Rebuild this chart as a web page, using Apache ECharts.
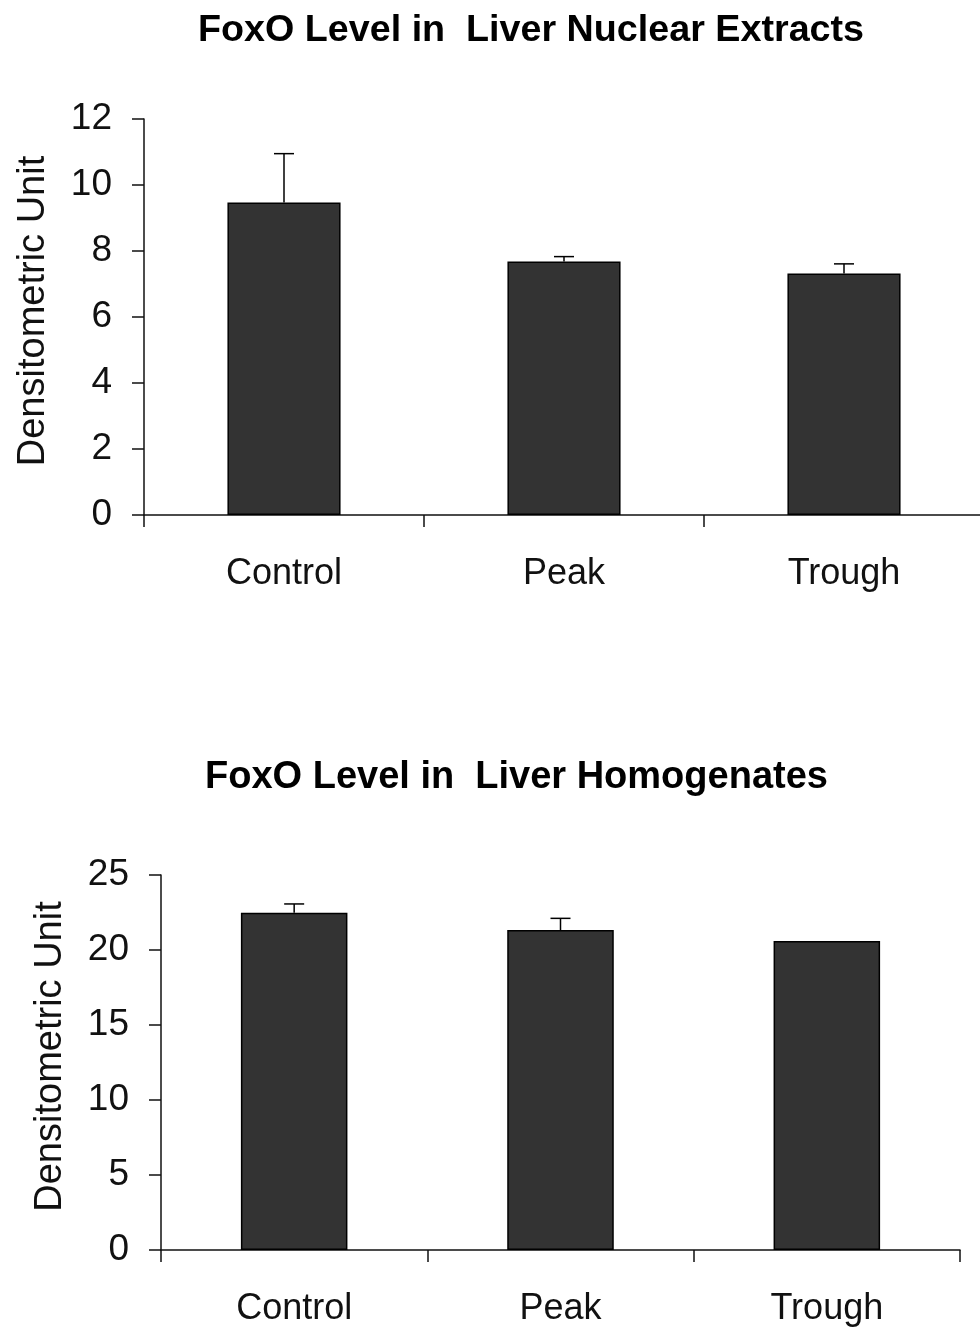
<!DOCTYPE html>
<html>
<head>
<meta charset="utf-8">
<script src="https://cdn.jsdelivr.net/npm/echarts@6/dist/echarts.min.js"></script>
<style>
  html, body { margin: 0; padding: 0; background: #fff; }
  #chart { width: 980px; height: 1330px; }
</style>
</head>
<body>
<div id="chart"></div>
<script>
// ---- Data ----
const categories = ['Control', 'Peak', 'Trough'];

const nuclearTitle = 'FoxO Level in  Liver Nuclear Extracts';
const nuclearValues = [9.47, 7.68, 7.32];
const nuclearErrors = [1.48, 0.15, 0.29];
const nuclearTicks = { min: 0, max: 12, interval: 2 };

const homogTitle = 'FoxO Level in  Liver Homogenates';
const homogValues = [22.49, 21.33, 20.6];
const homogErrors = [0.58, 0.78, 0];
const homogTicks = { min: 0, max: 25, interval: 5 };

const yName = 'Densitometric Unit';

// ---- Styles ----
const FONT = '"Liberation Sans", Arial, Helvetica, sans-serif';
const AXIS_COLOR = '#111';
const BAR_COLOR = '#333333';

function errorSeries(values, errors, gridIndex) {
  return {
    type: 'custom',
    xAxisIndex: gridIndex,
    yAxisIndex: gridIndex,
    silent: true,
    z: 3,
    data: values.map((v, i) => [i, v, errors[i]]),
    renderItem: function (params, api) {
      const idx = api.value(0);
      const v = api.value(1);
      const e = api.value(2);
      if (!e) return null;
      const p0 = api.coord([idx, v]);
      const p1 = api.coord([idx, v + e]);
      const half = 10;
      return {
        type: 'group',
        children: [
          { type: 'line', shape: { x1: p0[0], y1: p0[1], x2: p1[0], y2: p1[1] },
            style: { stroke: '#000', lineWidth: 1.5 } },
          { type: 'line', shape: { x1: p1[0] - half, y1: p1[1], x2: p1[0] + half, y2: p1[1] },
            style: { stroke: '#000', lineWidth: 1.5 } }
        ]
      };
    }
  };
}

function xAxis(gridIndex) {
  return {
    type: 'category',
    gridIndex: gridIndex,
    data: categories,
    axisLine: { lineStyle: { color: AXIS_COLOR, width: 1.5 } },
    axisTick: { show: true, length: 12, lineStyle: { color: AXIS_COLOR, width: 1.5 } },
    axisLabel: { color: '#111', fontSize: 36, fontFamily: FONT, margin: 41 }
  };
}

function yAxis(gridIndex, t) {
  return {
    type: 'value',
    gridIndex: gridIndex,
    min: t.min, max: t.max, interval: t.interval,
    name: yName,
    nameLocation: 'middle',
    nameGap: 91,
    nameRotate: 90,
    nameTextStyle: { color: '#111', fontSize: 38, fontFamily: FONT, padding: [0, 0, 0, 12] },
    axisLine: { show: true, lineStyle: { color: AXIS_COLOR, width: 1.5 } },
    axisTick: { show: true, length: 12, lineStyle: { color: AXIS_COLOR, width: 1.5 } },
    axisLabel: { color: '#111', fontSize: 37, fontFamily: FONT, margin: 32 },
    splitLine: { show: false }
  };
}

const chart = echarts.init(document.getElementById('chart'), null, { renderer: 'canvas' });
chart.setOption({
  backgroundColor: '#fff',
  animation: false,
  title: [
    { text: nuclearTitle, left: 193, top: 7,
      textStyle: { fontSize: 37.7, fontWeight: 'bold', color: '#000', fontFamily: FONT } },
    { text: homogTitle, left: 200, top: 754,
      textStyle: { fontSize: 38, fontWeight: 'bold', color: '#000', fontFamily: FONT } }
  ],
  grid: [
    { left: 144, top: 119, width: 840, height: 396, containLabel: false, outerBoundsMode: 'none' },
    { left: 161, top: 875, width: 799, height: 375, containLabel: false, outerBoundsMode: 'none' }
  ],
  xAxis: [xAxis(0), xAxis(1)],
  yAxis: [yAxis(0, nuclearTicks), yAxis(1, homogTicks)],
  series: [
    { type: 'bar', xAxisIndex: 0, yAxisIndex: 0, data: nuclearValues, barWidth: '40.4%',
      itemStyle: { color: BAR_COLOR, borderColor: '#000', borderWidth: 1.5 } },
    errorSeries(nuclearValues, nuclearErrors, 0),
    { type: 'bar', xAxisIndex: 1, yAxisIndex: 1, data: homogValues, barWidth: '40%',
      itemStyle: { color: BAR_COLOR, borderColor: '#000', borderWidth: 1.5 } },
    errorSeries(homogValues, homogErrors, 1)
  ]
});
</script>
</body>
</html>
